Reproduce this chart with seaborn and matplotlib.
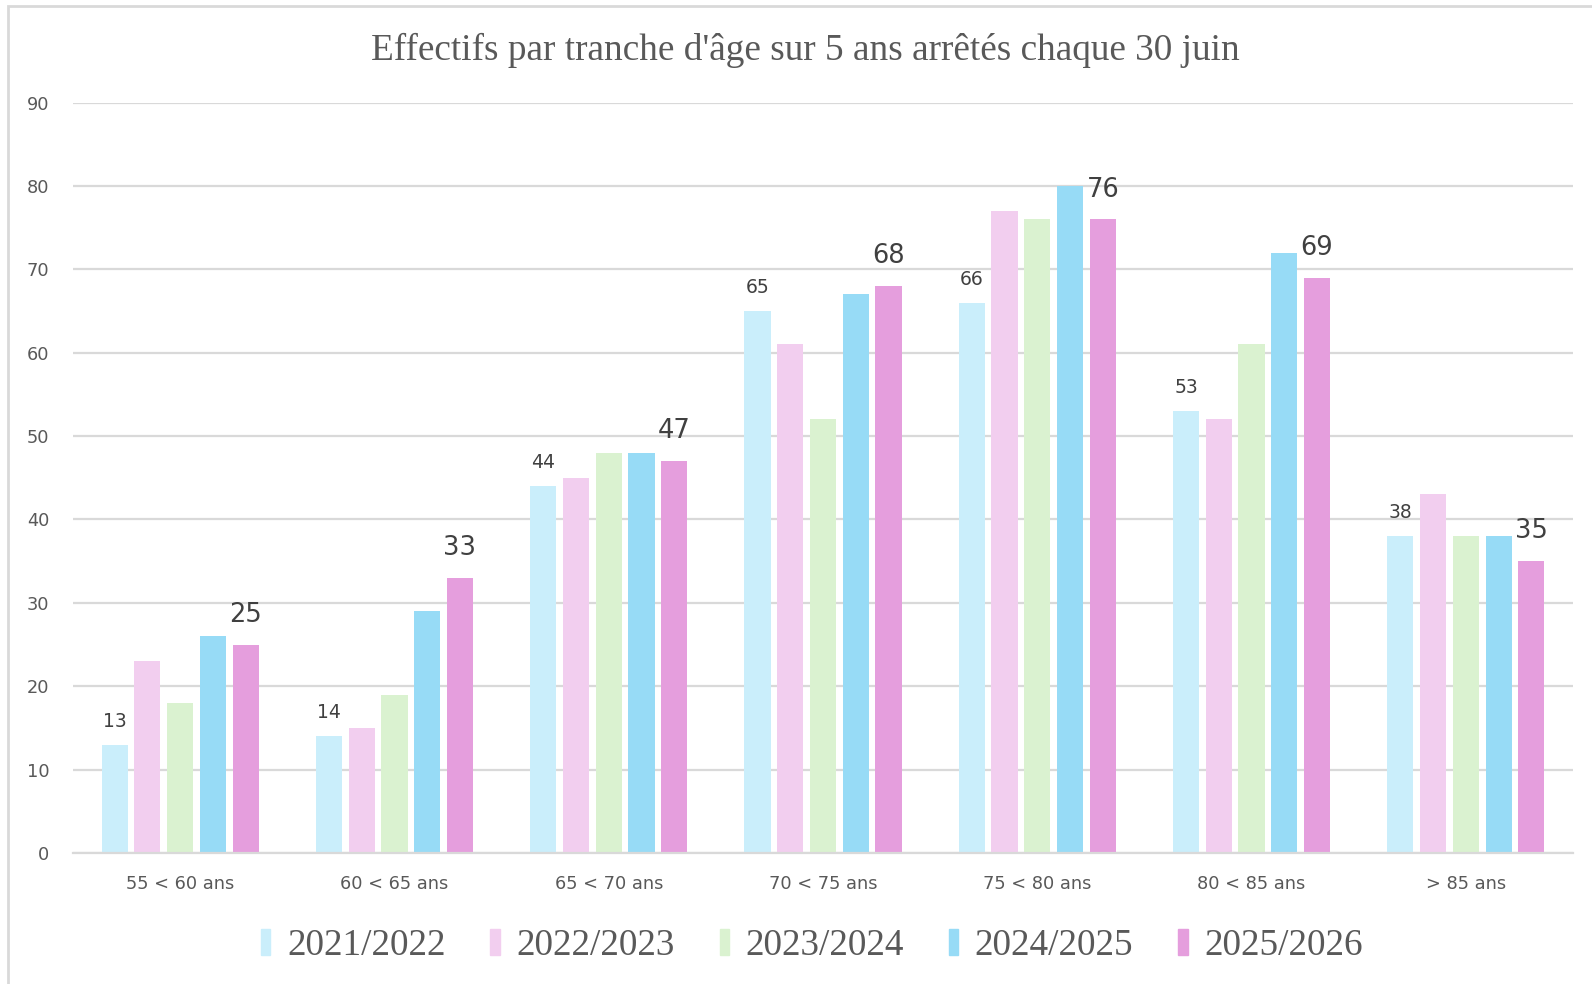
import matplotlib.pyplot as plt
import matplotlib.patches as mpatches
import pandas as pd
import seaborn as sns

# Données
tranches = ["55 < 60 ans", "60 < 65 ans", "65 < 70 ans", "70 < 75 ans",
            "75 < 80 ans", "80 < 85 ans", "> 85 ans"]
annees = ["2021/2022", "2022/2023", "2023/2024", "2024/2025", "2025/2026"]
eff_2021 = [13, 14, 44, 65, 66, 53, 38]
eff_2022 = [23, 15, 45, 61, 77, 52, 43]
eff_2023 = [18, 19, 48, 52, 76, 61, 38]
eff_2024 = [26, 29, 48, 67, 80, 72, 38]
eff_2025 = [25, 33, 47, 68, 76, 69, 35]
couleurs = ["#CAEEFB", "#F2CEEF", "#DAF2D0", "#97DBF6", "#E59EDD"]

series = [eff_2021, eff_2022, eff_2023, eff_2024, eff_2025]
rows = []
for annee, valeurs in zip(annees, series):
    for tranche, v in zip(tranches, valeurs):
        rows.append({"tranche": tranche, "annee": annee, "effectif": v})
df = pd.DataFrame(rows)

sns.set_theme(style="white")
plt.rcParams["font.family"] = ["DejaVu Sans"]

fig = plt.figure(figsize=(15.92, 9.84), dpi=100)
ax = fig.add_axes([73 / 1592, 1 - 853 / 984, 1500 / 1592, (853 - 102.5) / 984])

sns.barplot(data=df, x="tranche", y="effectif", hue="annee",
            palette=couleurs, saturation=1, width=0.764, gap=0.2, ax=ax,
            edgecolor="none", linewidth=0, legend=False)

ax.set_xlim(-0.5, 6.5)
ax.set_ylim(0, 90)
ax.set_yticks(range(0, 91, 10))
ax.grid(axis="y", color="#D9D9D9", linewidth=1.6)
ax.set_axisbelow(True)
for s in ["top", "right", "left"]:
    ax.spines[s].set_visible(False)
ax.spines["bottom"].set_color("#D9D9D9")
ax.spines["bottom"].set_linewidth(1.6)
ax.set_xlabel("")
ax.set_ylabel("")
ax.tick_params(axis="both", length=0, labelsize=12.8, labelcolor="#595959")
ax.tick_params(axis="y", pad=17)
ax.tick_params(axis="x", pad=16)

# étiquettes : première et dernière série
ax.bar_label(ax.containers[0], padding=10, fontsize=13.5, color="#404040")
ax.bar_label(ax.containers[4], padding=12, fontsize=18.5, color="#404040")

fig.text(0.506, 1 - 50 / 984, "Effectifs par tranche d'âge sur 5 ans arrêtés chaque 30 juin",
         ha="center", va="center", fontsize=26.8, color="#595959",
         family=["Liberation Serif", "DejaVu Serif"])

handles = [mpatches.Patch(color=c, label=a) for a, c in zip(annees, couleurs)]
fig.legend(handles=handles, loc="center", bbox_to_anchor=(0.51, 1 - 946 / 984),
           ncol=5, frameon=False, handlelength=0.25, handleheight=0.7,
           handletextpad=0.45, columnspacing=1.21,
           prop={"family": ["Liberation Serif", "DejaVu Serif"], "size": 26.7},
           labelcolor="#595959")

# cadre du graphique
fig.patches.append(mpatches.Rectangle((8 / 1592, -0.1), 1.2, 1 - 6 / 984 + 0.1,
                                      transform=fig.transFigure, fill=False,
                                      edgecolor="#D9D9D9", linewidth=2))

fig.savefig("out.png", dpi=100, facecolor="white")
